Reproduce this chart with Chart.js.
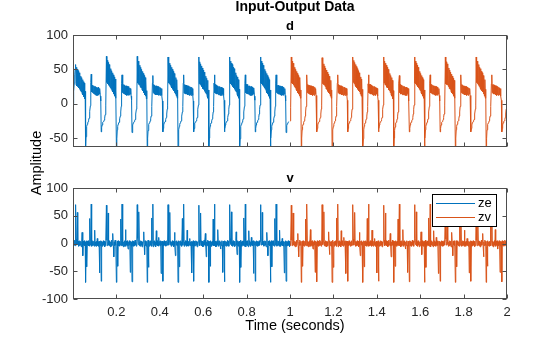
<!DOCTYPE html>
<html>
<head>
<meta charset="utf-8">
<script src="https://cdn.jsdelivr.net/npm/chart.js@4.4.1/dist/chart.umd.min.js"></script>
<style>
html, body { margin: 0; padding: 0; background: #fff; }
#wrap { position: relative; width: 560px; height: 337px; }
canvas { position: absolute; left: 0; top: 0; }
</style>
</head>
<body>
<div id="wrap">
<canvas id="dChart" width="560" height="337"></canvas>
<canvas id="vChart" width="560" height="337"></canvas>
</div>
<script>
// sampled signals, one value every sampleTime seconds
const sampleTime = 0.002;
const zeStart = 0;
const zvStart = 1;

// channel d, estimation part (0 .. 0.998 s)
const zeD = [0, 8, 18, 30, 42, 51,
57, 28, 53, 26, 50, 25, 48, 23, 45, 21, 43, 19, 40, 17, 38, 15, 35, 13, 32, 10, 30, 7, 18, -64, -48, -38, -33, -30, -28, -26, -24, -21, -17, -11, -3, 31, 43, 17, 27, 16, 26, 15, 26, 14, 25, 13, 25, 12, 24, 13, 23, 12, 24, 13, 22, 14, 21, 11, 4, -41, -35, -31, -28, -27, -26, -25, -24, -21, -16, -9, -2,
69, 31, 63, 29, 60, 27, 57, 25, 54, 23, 51, 21, 48, 19, 45, 17, 42, 14, 39, 11, 36, 8, 21, -64, -51, -38, -33, -30, -28, -27, -25, -22, -18, -12, -4, 29, 42, 16, 28, 15, 28, 14, 27, 14, 26, 13, 26, 12, 25, 13, 25, 12, 24, 13, 23, 14, 22, 11, 5, -42, -36, -31, -28, -27, -26, -25, -23, -20, -15, -8, -2,
69, 30, 62, 28, 59, 27, 56, 24, 53, 23, 50, 20, 47, 19, 44, 16, 41, 13, 38, 11, 34, 7, 19, -64, -50, -39, -34, -30, -28, -27, -25, -22, -18, -12, -4, 30, 41, 16, 28, 14, 27, 14, 26, 13, 26, 13, 25, 13, 25, 12, 24, 13, 24, 12, 23, 15, 22, 12, 4, -41, -36, -31, -28, -27, -26, -25, -23, -20, -15, -8, -2,
68, 30, 62, 29, 59, 27, 56, 25, 53, 23, 50, 21, 47, 19, 44, 16, 41, 14, 38, 11, 35, 8, 20, -64, -50, -38, -33, -30, -28, -27, -25, -22, -18, -12, -4, 30, 42, 16, 28, 15, 27, 14, 27, 14, 26, 13, 26, 13, 25, 12, 25, 13, 24, 12, 24, 14, 22, 12, 4, -41, -36, -31, -28, -27, -26, -25, -23, -20, -15, -8, -2,
68, 29, 61, 28, 58, 27, 55, 25, 52, 22, 49, 21, 46, 18, 43, 16, 40, 14, 37, 11, 34, 8, 20, -64, -50, -38, -33, -30, -28, -26, -25, -22, -18, -12, -4, 30, 42, 16, 28, 15, 27, 14, 26, 14, 26, 13, 25, 13, 25, 12, 24, 13, 24, 12, 23, 14, 22, 12, 5, -41, -36, -31, -28, -27, -26, -25, -23, -20, -15, -8, -2,
68, 31, 62, 29, 59, 27, 57, 25, 53, 23, 51, 21, 47, 19, 45, 17, 41, 14, 39, 11, 35, 8, 21, -64, -51, -38, -33, -30, -28, -27, -25, -22, -18, -12, -4, 29, 42, 16, 28, 15, 28, 14, 27, 14, 26, 13, 26, 12, 25, 13, 25, 12, 24, 13, 23, 14, 22, 11, 5, -41, -36, -31, -28, -27, -26, -25, -23, -20, -15, -8, -2,
68, 30, 62, 29, 59, 27, 56, 25, 53, 23, 50, 21, 47, 19, 44, 16, 41, 14, 38, 11, 35, 8, 20, -64, -50, -38, -33, -30, -28, -27, -25, -22, -18, -12, -4, 30, 42, 16, 28, 15, 27, 14, 27, 14, 26, 13, 26, 13, 25, 12, 25, 13, 24, 12, 24, 14, 22, 12, 4, -42, -37, -32, -29, -28, -27, -27, -26, -26];

// channel d, validation part (1 .. 2 s)
const zvD = [-25, -18, -6,
68, 30, 62, 29, 59, 27, 56, 25, 53, 23, 50, 21, 47, 19, 44, 16, 41, 14, 38, 11, 35, 8, 20, -64, -50, -38, -33, -30, -28, -27, -25, -22, -18, -12, -4, 30, 42, 16, 28, 15, 27, 14, 27, 14, 26, 13, 26, 13, 25, 12, 25, 13, 24, 12, 24, 14, 22, 12, 4, -41, -36, -31, -28, -27, -26, -25, -23, -20, -15, -8, -2,
67, 29, 61, 28, 58, 27, 55, 25, 52, 22, 49, 21, 46, 18, 43, 16, 40, 14, 37, 11, 34, 8, 20, -64, -50, -38, -33, -30, -28, -26, -25, -22, -18, -12, -4, 30, 42, 16, 28, 15, 27, 14, 26, 14, 26, 13, 25, 13, 25, 12, 24, 13, 24, 12, 23, 14, 22, 12, 5, -41, -36, -31, -28, -27, -26, -25, -23, -20, -15, -8, -2,
68, 31, 63, 29, 60, 27, 57, 25, 54, 23, 51, 21, 48, 19, 45, 17, 42, 14, 39, 11, 36, 8, 21, -64, -51, -38, -33, -30, -28, -27, -25, -22, -18, -12, -4, 29, 42, 16, 28, 15, 28, 14, 27, 14, 26, 13, 26, 12, 25, 13, 25, 12, 24, 13, 23, 14, 22, 11, 5, -41, -36, -31, -28, -27, -26, -25, -23, -20, -15, -8, -2,
68, 30, 62, 28, 59, 27, 56, 24, 53, 23, 50, 20, 47, 19, 44, 16, 41, 13, 38, 11, 34, 7, 19, -64, -50, -39, -34, -30, -28, -27, -25, -22, -18, -12, -4, 30, 41, 16, 28, 14, 27, 14, 26, 13, 26, 13, 25, 13, 25, 12, 24, 13, 24, 12, 23, 15, 22, 12, 4, -41, -36, -31, -28, -27, -26, -25, -23, -20, -15, -8, -2,
68, 30, 62, 29, 59, 27, 56, 25, 53, 23, 50, 21, 47, 19, 44, 16, 41, 14, 38, 11, 35, 8, 20, -64, -50, -38, -33, -30, -28, -27, -25, -22, -18, -12, -4, 30, 42, 16, 28, 15, 27, 14, 27, 14, 26, 13, 26, 13, 25, 12, 25, 13, 24, 12, 24, 14, 22, 12, 4, -41, -36, -31, -28, -27, -26, -25, -23, -20, -15, -8, -2,
68, 29, 61, 28, 58, 27, 55, 25, 52, 22, 49, 21, 46, 18, 43, 16, 40, 14, 37, 11, 34, 8, 20, -64, -50, -38, -33, -30, -28, -26, -25, -22, -18, -12, -4, 30, 42, 16, 28, 15, 27, 14, 26, 14, 26, 13, 25, 13, 25, 12, 24, 13, 24, 12, 23, 14, 22, 12, 5, -41, -36, -31, -28, -27, -26, -25, -23, -20, -15, -8, -2,
68, 31, 62, 29, 59, 27, 57, 25, 53, 23, 51, 21, 47, 19, 45, 17, 41, 14, 39, 11, 35, 8, 21, -64, -51, -38, -33, -30, -28, -27, -25, -22, -18, -12, -4, 29, 42, 16, 28, 15, 28, 14, 27, 14, 26, 13, 26, 12, 25, 13, 25, 12, 24, 13, 23, 14, 22, 11, 5, -41, -36, -31, -28, -27, -26, -25, -23, -20, -15, -8, -2,
70];

// channel v, estimation part
const zeV = [3, -4, 5, -3, 6, -4,
70, 8, -3, 4, 56, -2, 4, -5, 3, -4, 5, -3, 4, -6, 3, 20, -4, -22, 4, -3, 5, -4, 3, -70, -4, 5, -42, 4, -3, 5, -4, 3, -5, 45, -3, 4, 71, -5, 3, -4, 5, -3, 4, -5, 24, -4, 3, -5, 4, -3, 9, -4, 3, -5, 4, -53, 3, -4, 5, -68, 4, -5, 3, -4, 5, -3, 4, -6, 3, -4, 5,
69, 6, -4, 3, 55, -3, 5, -4, 4, -6, 3, -5, 6, -3, 4, 18, -5, -24, 3, -4, 6, -3, 4, -70, -5, 4, -41, 5, -4, 3, -5, 4, -3, 44, -4, 5, 71, -4, 4, -6, 3, -5, 5, -3, 25, -5, 4, -3, 5, -4, -10, 3, -4, 5, -3, -52, 4, -5, 3, -69, 5, -4, 4, -5, 3, -4, 6, -3, 4, -5, 3,
70, 9, -2, 5, 57, -4, 3, -5, 5, -3, 4, -6, 3, -4, 5, 21, -3, -20, 5, -4, 3, -5, 4, -70, -3, 6, -43, 3, -5, 4, -3, 5, -4, 46, -5, 3, 71, -6, 4, -3, 5, -4, 3, -6, 23, -3, 5, -4, 3, -5, 11, -3, 4, -4, 5, -54, 4, -3, 4, -68, 3, -4, 5, -3, 4, -5, 3, -4, 5, -3, 4,
70, 8, -3, 4, 56, -2, 4, -5, 3, -4, 5, -3, 4, -6, 3, 20, -4, -22, 4, -3, 5, -4, 3, -70, -4, 5, -42, 4, -3, 5, -4, 3, -5, 45, -3, 4, 71, -5, 3, -4, 5, -3, 4, -5, 24, -4, 3, -5, 4, -3, 9, -4, 3, -5, 4, -53, 3, -4, 5, -68, 4, -5, 3, -4, 5, -3, 4, -6, 3, -4, 5,
69, 6, -4, 3, 55, -3, 5, -4, 4, -6, 3, -5, 6, -3, 4, 18, -5, -24, 3, -4, 6, -3, 4, -70, -5, 4, -41, 5, -4, 3, -5, 4, -3, 44, -4, 5, 71, -4, 4, -6, 3, -5, 5, -3, 25, -5, 4, -3, 5, -4, -10, 3, -4, 5, -3, -52, 4, -5, 3, -69, 5, -4, 4, -5, 3, -4, 6, -3, 4, -5, 3,
70, 9, -2, 5, 57, -4, 3, -5, 5, -3, 4, -6, 3, -4, 5, 21, -3, -20, 5, -4, 3, -5, 4, -70, -3, 6, -43, 3, -5, 4, -3, 5, -4, 46, -5, 3, 71, -6, 4, -3, 5, -4, 3, -6, 23, -3, 5, -4, 3, -5, 11, -3, 4, -4, 5, -54, 4, -3, 4, -68, 3, -4, 5, -3, 4, -5, 3, -4, 5, -3, 4,
70, 8, -3, 4, 56, -2, 4, -5, 3, -4, 5, -3, 4, -6, 3, 20, -4, -22, 4, -3, 5, -4, 3, -70, -4, 5, -42, 4, -3, 5, -4, 3, -5, 45, -3, 4, 71, -5, 3, -4, 5, -3, 4, -5, 24, -4, 3, -5, 4, -3, 9, -4, 3, -5, 4, -53, 3, -4, 5, -68, 4, -5, 3, -4, 5, -3, 4, -6];

// channel v, validation part
const zvV = [3, -4, 5,
69, 6, -4, 3, 55, -3, 5, -4, 4, -6, 3, -5, 6, -3, 4, 18, -5, -24, 3, -4, 6, -3, 4, -70, -5, 4, -41, 5, -4, 3, -5, 4, -3, 44, -4, 5, 71, -4, 4, -6, 3, -5, 5, -3, 25, -5, 4, -3, 5, -4, -10, 3, -4, 5, -3, -52, 4, -5, 3, -69, 5, -4, 4, -5, 3, -4, 6, -3, 4, -5, 3,
70, 9, -2, 5, 57, -4, 3, -5, 5, -3, 4, -6, 3, -4, 5, 21, -3, -20, 5, -4, 3, -5, 4, -70, -3, 6, -43, 3, -5, 4, -3, 5, -4, 46, -5, 3, 71, -6, 4, -3, 5, -4, 3, -6, 23, -3, 5, -4, 3, -5, 11, -3, 4, -4, 5, -54, 4, -3, 4, -68, 3, -4, 5, -3, 4, -5, 3, -4, 5, -3, 4,
70, 8, -3, 4, 56, -2, 4, -5, 3, -4, 5, -3, 4, -6, 3, 20, -4, -22, 4, -3, 5, -4, 3, -70, -4, 5, -42, 4, -3, 5, -4, 3, -5, 45, -3, 4, 71, -5, 3, -4, 5, -3, 4, -5, 24, -4, 3, -5, 4, -3, 9, -4, 3, -5, 4, -53, 3, -4, 5, -68, 4, -5, 3, -4, 5, -3, 4, -6, 3, -4, 5,
69, 6, -4, 3, 55, -3, 5, -4, 4, -6, 3, -5, 6, -3, 4, 18, -5, -24, 3, -4, 6, -3, 4, -70, -5, 4, -41, 5, -4, 3, -5, 4, -3, 44, -4, 5, 71, -4, 4, -6, 3, -5, 5, -3, 25, -5, 4, -3, 5, -4, -10, 3, -4, 5, -3, -52, 4, -5, 3, -69, 5, -4, 4, -5, 3, -4, 6, -3, 4, -5, 3,
70, 9, -2, 5, 57, -4, 3, -5, 5, -3, 4, -6, 3, -4, 5, 21, -3, -20, 5, -4, 3, -5, 4, -70, -3, 6, -43, 3, -5, 4, -3, 5, -4, 46, -5, 3, 71, -6, 4, -3, 5, -4, 3, -6, 23, -3, 5, -4, 3, -5, 11, -3, 4, -4, 5, -54, 4, -3, 4, -68, 3, -4, 5, -3, 4, -5, 3, -4, 5, -3, 4,
70, 8, -3, 4, 56, -2, 4, -5, 3, -4, 5, -3, 4, -6, 3, 20, -4, -22, 4, -3, 5, -4, 3, -70, -4, 5, -42, 4, -3, 5, -4, 3, -5, 45, -3, 4, 71, -5, 3, -4, 5, -3, 4, -5, 24, -4, 3, -5, 4, -3, 9, -4, 3, -5, 4, -53, 3, -4, 5, -68, 4, -5, 3, -4, 5, -3, 4, -6, 3, -4, 5,
69, 6, -4, 3, 55, -3, 5, -4, 4, -6, 3, -5, 6, -3, 4, 18, -5, -24, 3, -4, 6, -3, 4, -70, -5, 4, -41, 5, -4, 3, -5, 4, -3, 44, -4, 5, 71, -4, 4, -6, 3, -5, 5, -3, 25, -5, 4, -3, 5, -4, -10, 3, -4, 5, -3, -52, 4, -5, 3, -69, 5, -4, 4, -5, 3, -4, 6, -3, 4, -5, 3,
72];

const timeTicks = [0.2, 0.4, 0.6, 0.8, 1, 1.2, 1.4, 1.6, 1.8, 2];
const dTicks = [-50, 0, 50, 100];
const vTicks = [-100, -50, 0, 50, 100];
const dLimits = [-63, 100];
const vLimits = [-100, 100];
const seriesNames = ['ze', 'zv'];

const FONT = '"Liberation Sans", Arial, Helvetica, sans-serif';
const AXIS_COLOR = '#262626';
const BLUE = '#0072BD';
const ORANGE = '#D95319';

function toPoints(values, start) {
  return values.map((y, k) => ({ x: start + k * sampleTime, y: y }));
}

// box around the axes plus inward tick marks on all four sides
const axesBox = {
  id: 'axesBox',
  afterDraw(chart) {
    const ctx = chart.ctx;
    const a = chart.chartArea;
    const xs = chart.scales.x, ys = chart.scales.y;
    const L = Math.round(a.left) + 0.5, R = Math.round(a.right) - 0.5;
    const T = Math.round(a.top) + 0.5, B = Math.round(a.bottom) - 0.5;
    ctx.save();
    ctx.strokeStyle = '#4d4d4d';
    ctx.lineWidth = 1;
    ctx.beginPath();
    xs.ticks.forEach(t => {
      const px = Math.round(xs.getPixelForValue(t.value)) + 0.5;
      ctx.moveTo(px, B); ctx.lineTo(px, B - 4);
      ctx.moveTo(px, T); ctx.lineTo(px, T + 4);
    });
    ys.ticks.forEach(t => {
      const py = Math.round(ys.getPixelForValue(t.value)) + 0.5;
      ctx.moveTo(L, py); ctx.lineTo(L + 4, py);
      ctx.moveTo(R, py); ctx.lineTo(R - 4, py);
    });
    ctx.stroke();
    ctx.strokeRect(L, T, R - L, B - T);
    ctx.restore();
  }
};

// figure texts: titles, axis labels, legend
const labels = {
  id: 'labels',
  afterDraw(chart, args, opts) {
    const ctx = chart.ctx;
    ctx.save();
    ctx.textAlign = 'center';
    (opts.texts || []).forEach(t => {
      ctx.save();
      ctx.font = t.font;
      ctx.fillStyle = t.color || '#000';
      ctx.translate(t.x, t.y);
      if (t.rotate) ctx.rotate(t.rotate);
      ctx.textBaseline = t.baseline || 'alphabetic';
      ctx.fillText(t.text, 0, 0);
      ctx.restore();
    });
    if (opts.legend) {
      const g = opts.legend;
      ctx.fillStyle = '#fff';
      ctx.fillRect(g.x, g.y, g.w, g.h);
      ctx.strokeStyle = '#000';
      ctx.lineWidth = 1;
      ctx.strokeRect(g.x + 0.5, g.y + 0.5, g.w, g.h);
      chart.data.datasets.forEach((ds, k) => {
        const ly = g.y + 9.5 + k * 14;
        ctx.strokeStyle = ds.borderColor;
        ctx.beginPath();
        ctx.moveTo(g.x + 4, ly); ctx.lineTo(g.x + 43, ly);
        ctx.stroke();
        ctx.fillStyle = '#000';
        ctx.font = '13px ' + FONT;
        ctx.textAlign = 'left';
        ctx.textBaseline = 'middle';
        ctx.fillText(ds.label, g.x + 46, ly);
      });
    }
    ctx.restore();
  }
};

function makeChart(id, padTop, xHeight, showX, yTicks, yLim, zeVals, zvVals, labelOpts) {
  return new Chart(document.getElementById(id), {
    type: 'line',
    data: {
      datasets: [
        { label: seriesNames[0], data: toPoints(zeVals, zeStart), borderColor: BLUE, borderWidth: 1, pointRadius: 0, fill: false, tension: 0 },
        { label: seriesNames[1], data: toPoints(zvVals, zvStart), borderColor: ORANGE, borderWidth: 1, pointRadius: 0, fill: false, tension: 0 }
      ]
    },
    options: {
      responsive: false,
      animation: false,
      events: [],
      layout: { autoPadding: false, padding: { left: 0, right: 53, top: padTop, bottom: 0 } },
      scales: {
        x: {
          type: 'linear', min: 0, max: 2,
          afterBuildTicks: s => { s.ticks = timeTicks.map(v => ({ value: v })); },
          afterFit: s => { s.height = xHeight; },
          grid: { display: false, drawTicks: false },
          border: { display: false },
          ticks: {
            display: showX, autoSkip: false, maxRotation: 0, padding: 6,
            color: AXIS_COLOR, font: { family: FONT, size: 13 },
            callback: v => String(+v.toFixed(1))
          }
        },
        y: {
          min: yLim[0], max: yLim[1],
          afterBuildTicks: s => { s.ticks = yTicks.map(v => ({ value: v })); },
          afterFit: s => { s.width = 73; },
          grid: { display: false, drawTicks: false },
          border: { display: false },
          ticks: { padding: 5, color: AXIS_COLOR, font: { family: FONT, size: 13 } }
        }
      },
      plugins: {
        legend: { display: false },
        tooltip: { enabled: false },
        labels: labelOpts
      }
    },
    plugins: [axesBox, labels]
  });
}

makeChart('dChart', 35, 190, false, dTicks, dLimits, zeD, zvD, {
  texts: [
    { text: 'Input-Output Data', x: 295, y: 11, font: 'bold 14px ' + FONT },
    { text: 'd', x: 290, y: 30, font: 'bold 13px ' + FONT },
    { text: 'Amplitude', x: 37, y: 163, rotate: -Math.PI / 2, baseline: 'middle', font: '14.5px ' + FONT }
  ]
});

makeChart('vChart', 188, 38, true, vTicks, vLimits, zeV, zvV, {
  texts: [
    { text: 'v', x: 290, y: 182, font: 'bold 13px ' + FONT },
    { text: 'Time (seconds)', x: 295, y: 330, font: '14.5px ' + FONT }
  ],
  legend: { x: 432, y: 194, w: 64, h: 32 }
});
</script>
</body>
</html>
